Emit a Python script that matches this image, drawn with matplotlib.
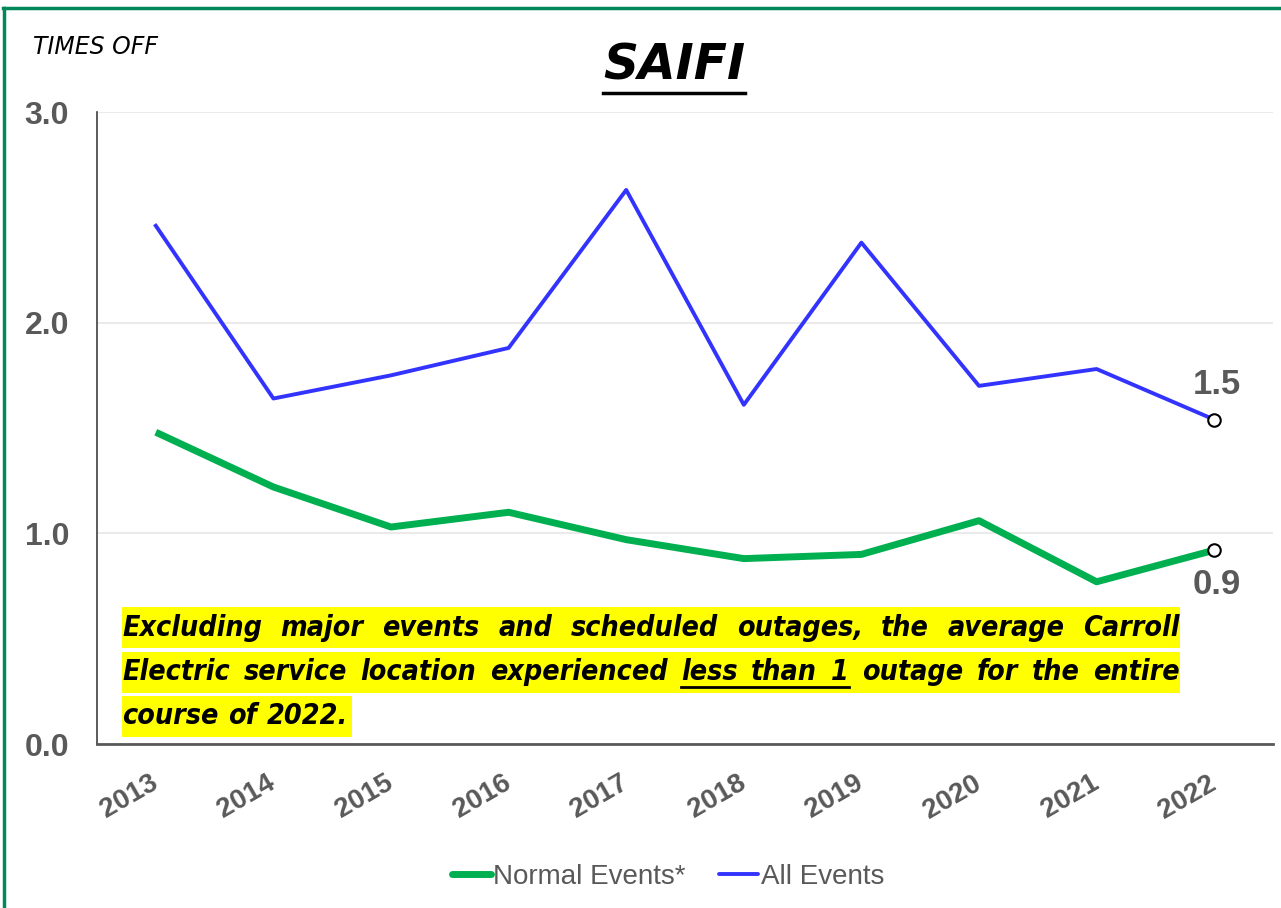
import matplotlib
matplotlib.use('Agg')
import matplotlib.pyplot as plt
from matplotlib.lines import Line2D

# Daten
jahre = ['2013', '2014', '2015', '2016', '2017', '2018', '2019', '2020', '2021', '2022']
normal_events = [1.48, 1.22, 1.03, 1.10, 0.97, 0.88, 0.90, 1.06, 0.77, 0.92]
all_events = [2.46, 1.64, 1.75, 1.88, 2.63, 1.61, 2.38, 1.70, 1.78, 1.54]
y_ticks = [0.0, 1.0, 2.0, 3.0]

titel = 'SAIFI'
y_titel = 'TIMES OFF'
hinweis_zeilen = [
    'Excluding major events and scheduled outages, the average Carroll',
    'Electric service location experienced less than 1 outage for the entire',
    'course of 2022.',
]
unterstrichen = ('less', '1')

GRUEN = '#00B050'
BLAU = '#3333FF'
GRAU = '#595959'
RAND = '#00875A'

W, H = 1281, 908
fig = plt.figure(figsize=(W / 100, H / 100), dpi=100)


def fx(px):
    return px / W


def fy(py):
    return 1 - py / H


ax = fig.add_axes([fx(97), fy(744), fx(1273) - fx(97), fy(112) - fy(744)])
x = range(len(jahre))

ax.plot(x, normal_events, color=GRUEN, lw=5, solid_capstyle='butt', zorder=3)
ax.plot(x, all_events, color=BLAU, lw=2.8, zorder=3)

# Endpunkte + Datenbeschriftung
for serie, off in [(all_events, 25), (normal_events, -25)]:
    ax.plot(x[-1], serie[-1], 'o', ms=9, mfc='white', mec='black', mew=1.5, zorder=4)
    ax.annotate(f'{serie[-1]:.1f}', (x[-1], serie[-1]), xytext=(2, off),
                textcoords='offset points', ha='center', va='center',
                fontsize=25, fontweight='bold', color=GRAU,
                family='Liberation Sans')

ax.set_xlim(-0.5, len(jahre) - 0.5)
ax.set_ylim(0, 3.0)
ax.set_yticks(y_ticks)
ax.set_yticklabels([f'{t:.1f}' for t in y_ticks], fontsize=23, fontweight='bold',
                   color=GRAU, family='Liberation Sans')
ax.set_xticks(list(x))
ax.set_xticklabels(jahre, fontsize=20, fontweight='bold', color=GRAU,
                   family='Liberation Sans', rotation=30, ha='right',
                   va='center', rotation_mode='anchor')
ax.tick_params(axis='y', length=0, pad=20)
ax.tick_params(axis='x', length=0, pad=27)
ax.grid(axis='y', color='#E6E6E6', lw=1.2, zorder=0)
ax.set_axisbelow(True)
for s in ['top', 'right']:
    ax.spines[s].set_visible(False)
ax.spines['left'].set_color('#404040')
ax.spines['left'].set_linewidth(1.2)
ax.spines['bottom'].set_color(GRAU)
ax.spines['bottom'].set_linewidth(2)

# Titel + Achsentitel
fig.text(fx(674), fy(66), titel, ha='center', va='center', fontsize=35,
         fontweight='bold', fontstyle='italic', color='black')
fig.add_artist(Line2D([fx(603), fx(745)], [fy(93), fy(93)], color='black', lw=2.5))
fig.text(fx(33), fy(47), y_titel, ha='left', va='center', fontsize=17,
         fontstyle='italic', color='black')

# Hinweistext, Blocksatz mit gelber Hinterlegung
renderer = fig.canvas.get_renderer()
links, rechts = 122, 1180
zeilen_y = [(607, 648), (652, 693), (696, 737)]
fs = 20.5
for i, zeile in enumerate(hinweis_zeilen):
    y0, y1 = zeilen_y[i]
    woerter = zeile.split()
    texte = [fig.text(0, 0, w, fontsize=fs, fontweight='bold', fontstyle='italic',
                      fontstretch='condensed', va='center', ha='left', zorder=3)
             for w in woerter]
    breiten = [t.get_window_extent(renderer=renderer).width for t in texte]
    if i < len(hinweis_zeilen) - 1:
        luecke = (rechts - links - sum(breiten)) / (len(woerter) - 1)
        ende = rechts
    else:
        luecke = 10
        ende = links + sum(breiten) + luecke * (len(woerter) - 1) + 4
    fig.add_artist(plt.Rectangle((fx(links), fy(y1)), fx(ende) - fx(links),
                                 fy(y0) - fy(y1), transform=fig.transFigure,
                                 facecolor='#FFFF00', edgecolor='none', zorder=2))
    pos = links
    start_u = None
    for w, t, b in zip(woerter, texte, breiten):
        t.set_position((fx(pos), fy((y0 + y1) / 2)))
        if w == unterstrichen[0]:
            start_u = pos
        if w == unterstrichen[1] and start_u is not None:
            fig.add_artist(Line2D([fx(start_u), fx(pos + b)],
                                  [fy(y1 - 6), fy(y1 - 6)], color='black', lw=2,
                                  zorder=3))
            start_u = None
        pos += b + luecke

# Legende
handles = [Line2D([], [], color=GRUEN, lw=5, solid_capstyle='round'),
           Line2D([], [], color=BLAU, lw=2.8, solid_capstyle='round')]
leg = fig.legend(handles, ['Normal Events*', 'All Events'], loc='center',
                 bbox_to_anchor=(fx(668), fy(877)), ncol=2, frameon=False,
                 handlelength=1.4, handletextpad=0.1, columnspacing=1.2,
                 prop={'family': 'Liberation Sans', 'size': 20})
for t in leg.get_texts():
    t.set_color(GRAU)

# gruener Rahmen
fig.add_artist(Line2D([fx(3), fx(W)], [fy(8), fy(8)], color=RAND, lw=2.5))
fig.add_artist(Line2D([fx(4), fx(4)], [fy(8), fy(H)], color=RAND, lw=2.5))

fig.savefig('out.png', dpi=100)
